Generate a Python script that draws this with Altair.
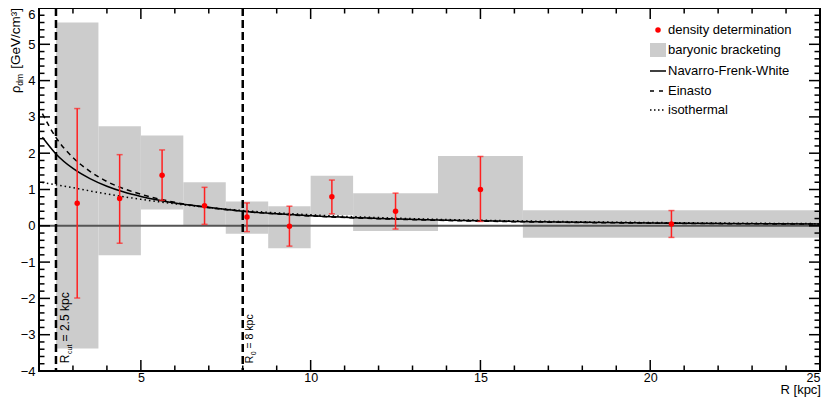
import altair as alt
import pandas as pd

# ---------------- data ----------------
# baryonic bracketing (radial bins and min/max density)
bin_lo = [2.5, 3.75, 5.0, 6.25, 7.5, 8.75, 10.0, 11.25, 13.75, 16.25]
bin_hi = [3.75, 5.0, 6.25, 7.5, 8.75, 10.0, 11.25, 13.75, 16.25, 25.0]
bar_lo = [-3.38, -0.81, 0.45, 0.0, -0.22, -0.62, 0.30, -0.14, 0.13, -0.33]
bar_hi = [5.60, 2.74, 2.49, 1.20, 0.67, 0.54, 1.38, 0.90, 1.92, 0.43]

# density determination with error bars
R_pt = [3.125, 4.375, 5.625, 6.875, 8.125, 9.375, 10.625, 12.5, 15.0, 20.625]
rho_pt = [0.62, 0.75, 1.39, 0.55, 0.24, -0.01, 0.80, 0.40, 1.00, 0.05]
err_hi = [3.23, 1.96, 2.09, 1.06, 0.63, 0.54, 1.26, 0.90, 1.91, 0.42]
err_lo = [-1.99, -0.48, 0.70, 0.04, -0.16, -0.56, 0.33, -0.09, 0.12, -0.32]

# profile curves
R_curve = [2.1, 2.5, 3.0, 3.5, 4.0, 4.5, 5.0, 6.0, 7.0, 8.0, 9.0, 10.0,
           12.0, 14.0, 16.0, 18.0, 20.0, 22.0, 25.0]
nfw = [2.44, 1.98, 1.58, 1.30, 1.09, 0.93, 0.81, 0.63, 0.51, 0.40, 0.331, 0.278,
       0.204, 0.155, 0.121, 0.096, 0.078, 0.065, 0.049]
einasto = [3.09, 2.43, 1.88, 1.50, 1.22, 1.02, 0.87, 0.646, 0.50, 0.40, 0.326, 0.271,
           0.195, 0.146, 0.113, 0.090, 0.073, 0.060, 0.046]
isothermal = [1.19, 1.13, 1.05, 0.96, 0.88, 0.80, 0.73, 0.606, 0.504, 0.42, 0.356, 0.303,
              0.226, 0.173, 0.137, 0.110, 0.091, 0.076, 0.059]

x_tick_major = [5, 10, 15, 20, 25]
x_tick_minor = [v for v in range(3, 25) if v % 5 != 0]
y_tick_major = list(range(-4, 7))
y_tick_minor = [round(-4 + 0.2 * i, 1) for i in range(51) if i % 5 != 0]

legend_labels = ["density determination", "baryonic bracketing",
                 "Navarro-Frenk-White", "Einasto", "isothermal"]

# ---------------- layout ----------------
W, H = 781, 363
FONT = "Liberation Sans"
one = pd.DataFrame({"k": [0]})

xs = alt.Scale(domain=[2, 25], nice=False, zero=False)
ys = alt.Scale(domain=[-4, 6], nice=False, zero=False)
xax = alt.Axis(values=x_tick_major, ticks=False, domain=False, grid=False,
               labelFontSize=12.5, labelFont=FONT, labelColor="black",
               labelPadding=0.5, labelOverlap=False, title=None)
yax = alt.Axis(values=y_tick_major, tickCount=11, ticks=False, domain=False, grid=False,
               labelFontSize=13, labelFont=FONT, labelColor="black",
               labelPadding=4, labelOverlap=False, title=None,
               labelBaseline={"condition": {"test": "datum.value == 6", "value": "top"},
                              "value": "middle"})

boxes_df = pd.DataFrame({"lo": bin_lo, "hi": bin_hi, "blo": bar_lo, "bhi": bar_hi})
pts_df = pd.DataFrame({"R": R_pt, "rho": rho_pt, "up": err_hi, "dn": err_lo})
curve_df = pd.DataFrame({
    "R": R_curve * 3,
    "rho": nfw + einasto + isothermal,
    "model": ["nfw"] * len(R_curve) + ["ein"] * len(R_curve) + ["iso"] * len(R_curve),
})

layers = []

boxes = alt.Chart(boxes_df).mark_rect(color="#cccccc").encode(
    x=alt.X("lo:Q", scale=xs, axis=xax),
    x2="hi:Q",
    y=alt.Y("blo:Q", scale=ys, axis=yax),
    y2="bhi:Q",
)
layers.append(boxes)

zero = alt.Chart(one).mark_rule(color="#555555", strokeWidth=2).encode(
    y=alt.Y(datum=0, scale=ys, axis=yax))
layers.append(zero)

for xv in [2.5, 8.0]:
    layers.append(alt.Chart(one).mark_rule(color="black", strokeWidth=2.5,
                                           strokeDash=[8, 4]).encode(
        x=alt.X(datum=xv, scale=xs, axis=xax)))

dashes = {"nfw": None, "ein": [5, 4], "iso": [1.5, 3]}
for m in ["iso", "ein", "nfw"]:
    kw = dict(color="black", strokeWidth=1.5, interpolate="monotone")
    if dashes[m] is not None:
        kw["strokeDash"] = dashes[m]
    layers.append(
        alt.Chart(curve_df).transform_filter(alt.datum.model == m).mark_line(**kw).encode(
            x=alt.X("R:Q", scale=xs, axis=xax),
            y=alt.Y("rho:Q", scale=ys, axis=yax),
        )
    )

err = alt.Chart(pts_df).mark_rule(color="#ff2020", strokeWidth=1.5).encode(
    x=alt.X("R:Q", scale=xs, axis=xax),
    y=alt.Y("dn:Q", scale=ys, axis=yax),
    y2="up:Q",
)
caps_hi = alt.Chart(pts_df).mark_tick(color="#ff2020", orient="horizontal",
                                      size=6, thickness=1.5).encode(
    x=alt.X("R:Q", scale=xs, axis=xax), y=alt.Y("up:Q", scale=ys, axis=yax))
caps_lo = alt.Chart(pts_df).mark_tick(color="#ff2020", orient="horizontal",
                                      size=6, thickness=1.5).encode(
    x=alt.X("R:Q", scale=xs, axis=xax), y=alt.Y("dn:Q", scale=ys, axis=yax))
points = alt.Chart(pts_df).mark_circle(color="#ff0000", size=30, opacity=1).encode(
    x=alt.X("R:Q", scale=xs, axis=xax), y=alt.Y("rho:Q", scale=ys, axis=yax))
layers += [err, caps_hi, caps_lo, points]


# vertical line labels (rotated, with subscripts)
def rot_text(txt, xv, dx, dy, size):
    return alt.Chart(one).mark_text(
        text=txt, angle=270, align="left", baseline="alphabetic",
        dx=dx, dy=dy, fontSize=size, font=FONT, color="black",
    ).encode(x=alt.X(datum=xv, scale=xs, axis=xax),
             y=alt.Y(datum=-4, scale=ys, axis=yax))


layers += [
    rot_text("R", 2.5, 7.7, 13.1, 12),
    rot_text("cut", 2.5, 17.0, 15.6, 7),
    rot_text("= 2.5 kpc", 2.5, 29.6, 13.1, 12),
    rot_text("R", 8.0, 7.7, 10.4, 10.5),
    rot_text("0", 8.0, 15.8, 12.9, 7),
    rot_text("= 8 kpc", 8.0, 22.5, 10.4, 10.5),
]


# manual inward ticks on all four sides
def xticks(vals, length, top):
    df = pd.DataFrame({"t": vals})
    y0 = 0 if top else H
    y1 = length if top else H - length
    return alt.Chart(df).mark_rule(color="black", strokeWidth=1.5).encode(
        x=alt.X("t:Q", scale=xs, axis=xax), y=alt.value(y0), y2=alt.value(y1))


def yticks(vals, length, right):
    df = pd.DataFrame({"t": vals})
    x0 = W if right else 0
    x1 = W - length if right else length
    return alt.Chart(df).mark_rule(color="black", strokeWidth=1.5).encode(
        y=alt.Y("t:Q", scale=ys, axis=yax), x=alt.value(x0), x2=alt.value(x1))


for top in [False, True]:
    layers.append(xticks(x_tick_major, 11, top))
    layers.append(xticks(x_tick_minor, 5.5, top))
for right in [False, True]:
    layers.append(yticks(y_tick_major, 11, right))
    layers.append(yticks(y_tick_minor, 5.5, right))

frame = alt.Chart(one).mark_rect(filled=False, stroke="black", strokeWidth=2).encode(
    x=alt.value(0), x2=alt.value(W), y=alt.value(0), y2=alt.value(H))
layers.append(frame)


# axis titles
def ptext(txt, x, y, size, align="left", baseline="alphabetic", angle=0):
    kw = dict(text=txt, align=align, baseline=baseline, fontSize=size,
              font=FONT, color="black")
    if angle:
        kw["angle"] = angle
    return alt.Chart(one).mark_text(**kw).encode(x=alt.value(x), y=alt.value(y))


layers += [
    ptext("R [kpc]", 782, 385.5, 13, align="right"),
    ptext("[GeV/cm³]", -19.5, 0, 13.5, align="right", angle=270),
    ptext("dm", -16.5, 66, 8.5, align="right", angle=270),
    ptext("ρ", -19.5, 77.5, 13, align="right", angle=270),
]

# legend
LX, LX2, LT = 611, 627, 629
rows = [22, 42, 63, 83, 102]
layers.append(alt.Chart(one).mark_circle(color="#ff0000", size=30, opacity=1).encode(
    x=alt.value(619), y=alt.value(rows[0])))
layers.append(alt.Chart(one).mark_rect(color="#cccccc").encode(
    x=alt.value(LX), x2=alt.value(LX2), y=alt.value(rows[1] - 7), y2=alt.value(rows[1] + 7)))
layers.append(alt.Chart(one).mark_rule(color="black", strokeWidth=1.5).encode(
    x=alt.value(LX), x2=alt.value(LX2), y=alt.value(rows[2])))
layers.append(alt.Chart(one).mark_rule(color="black", strokeWidth=1.5, strokeDash=[4, 5]).encode(
    x=alt.value(LX), x2=alt.value(LX2), y=alt.value(rows[3])))
layers.append(alt.Chart(one).mark_rule(color="black", strokeWidth=1.5, strokeDash=[1.5, 2.5]).encode(
    x=alt.value(LX), x2=alt.value(LX2), y=alt.value(rows[4])))
for lab, ry in zip(legend_labels, rows):
    layers.append(ptext(lab, LT, ry, 13, baseline="middle"))

chart = alt.layer(*layers).properties(
    width=W, height=H,
    autosize=alt.AutoSizeParams(type="none"),
    padding={"left": 31, "top": 0, "right": 2, "bottom": 29},
    background="white",
).configure_view(stroke=None).configure_axis(labelOverlap=False)

chart.save("out.html", embed_options={"renderer": "svg", "actions": False})
